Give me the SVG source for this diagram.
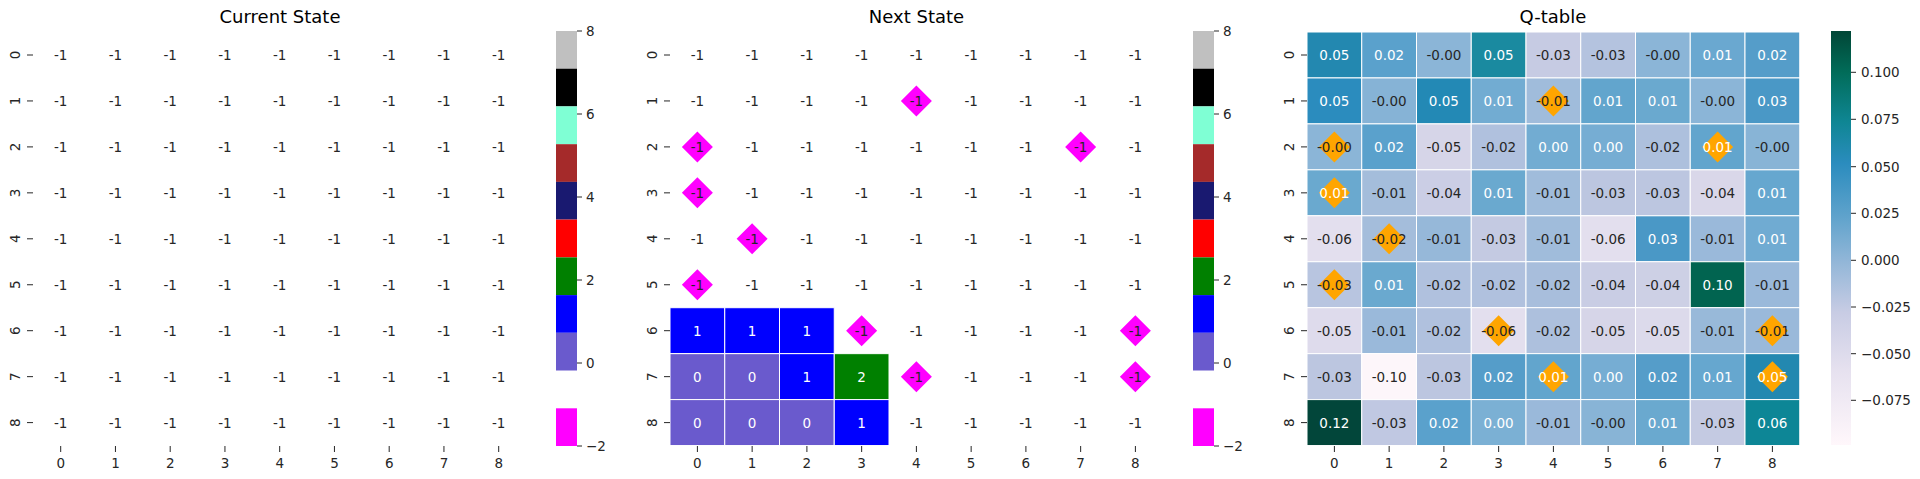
<svg xmlns="http://www.w3.org/2000/svg" xmlns:xlink="http://www.w3.org/1999/xlink" width="1920" height="479" viewBox="0 0 1920 479">
<style>
text{font-family:"DejaVu Sans",sans-serif;}
.t{font-size:18px;fill:#000;text-anchor:middle}
.a{font-size:13.5px;fill:#262626;text-anchor:middle;dominant-baseline:central}
.w{font-size:13.5px;fill:#fff;text-anchor:middle;dominant-baseline:central}
.k{font-size:13.5px;fill:#262626;text-anchor:middle;dominant-baseline:central}
.c{font-size:13.5px;fill:#262626;dominant-baseline:central}
.tk{stroke:#262626;stroke-width:1}
.cell rect{stroke:#fff;stroke-width:1}
</style>
<defs>
<g id="row">
<text class="a" x="0">-1</text><text class="a" x="54.75">-1</text><text class="a" x="109.5">-1</text><text class="a" x="164.25">-1</text><text class="a" x="219">-1</text><text class="a" x="273.75">-1</text><text class="a" x="328.5">-1</text><text class="a" x="383.25">-1</text><text class="a" x="438">-1</text>
</g>
<g id="xt">
<path class="tk" d="M0,446v6M54.75,446v6M109.5,446v6M164.25,446v6M219,446v6M273.75,446v6M328.5,446v6M383.25,446v6M438,446v6"/>
<text class="k" x="0" y="463">0</text><text class="k" x="54.75" y="463">1</text><text class="k" x="109.5" y="463">2</text><text class="k" x="164.25" y="463">3</text><text class="k" x="219" y="463">4</text><text class="k" x="273.75" y="463">5</text><text class="k" x="328.5" y="463">6</text><text class="k" x="383.25" y="463">7</text><text class="k" x="438" y="463">8</text>
</g>
<g id="yt">
<path class="tk" d="M-6,55h6M-6,100.95h6M-6,146.9h6M-6,192.85h6M-6,238.8h6M-6,284.75h6M-6,330.7h6M-6,376.65h6M-6,422.6h6"/>
<text class="k" transform="translate(-18,55) rotate(-90)">0</text><text class="k" transform="translate(-18,100.95) rotate(-90)">1</text><text class="k" transform="translate(-18,146.9) rotate(-90)">2</text><text class="k" transform="translate(-18,192.85) rotate(-90)">3</text><text class="k" transform="translate(-18,238.8) rotate(-90)">4</text><text class="k" transform="translate(-18,284.75) rotate(-90)">5</text><text class="k" transform="translate(-18,330.7) rotate(-90)">6</text><text class="k" transform="translate(-18,376.65) rotate(-90)">7</text><text class="k" transform="translate(-18,422.6) rotate(-90)">8</text>
</g>
<g id="cbar">
<rect x="0" y="31" width="21" height="37.7" fill="#c0c0c0"/>
<rect x="0" y="68.7" width="21" height="37.7" fill="#000"/>
<rect x="0" y="106.4" width="21" height="37.8" fill="#7fffd4"/>
<rect x="0" y="144.2" width="21" height="37.7" fill="#a52a2a"/>
<rect x="0" y="181.9" width="21" height="37.7" fill="#191970"/>
<rect x="0" y="219.6" width="21" height="37.8" fill="#ff0000"/>
<rect x="0" y="257.4" width="21" height="37.7" fill="#008000"/>
<rect x="0" y="295.1" width="21" height="37.7" fill="#0000ff"/>
<rect x="0" y="332.8" width="21" height="37.7" fill="#6a5acd"/>
<rect x="0" y="408.3" width="21" height="37.7" fill="#ff00ff"/>
<path class="tk" d="M21,31h5M21,114h5M21,197h5M21,280h5M21,363h5M21,446h5"/>
<text class="c" x="30" y="31">8</text><text class="c" x="30" y="114">6</text><text class="c" x="30" y="197">4</text><text class="c" x="30" y="280">2</text><text class="c" x="30" y="363">0</text><text class="c" x="30" y="446">−2</text>
</g>
<path id="dia" d="M0,-15.5L15.5,0L0,15.5L-15.5,0Z"/>
<linearGradient id="qg" x1="0" y1="1" x2="0" y2="0">
<stop offset="0" stop-color="#fff7fb"/>
<stop offset="0.18" stop-color="#e6e1ef"/>
<stop offset="0.32" stop-color="#c8cce4"/>
<stop offset="0.45" stop-color="#8fb5d7"/>
<stop offset="0.55" stop-color="#60a3cc"/>
<stop offset="0.68" stop-color="#2b8cbe"/>
<stop offset="0.78" stop-color="#0f8694"/>
<stop offset="0.9" stop-color="#016c59"/>
<stop offset="1" stop-color="#014636"/>
</linearGradient>
</defs>

<!-- Current State -->
<g id="current">
<text class="t" x="280" y="23">Current State</text>
<use href="#row" x="60.7" y="55"/><use href="#row" x="60.7" y="100.95"/><use href="#row" x="60.7" y="146.9"/><use href="#row" x="60.7" y="192.85"/><use href="#row" x="60.7" y="238.8"/><use href="#row" x="60.7" y="284.75"/><use href="#row" x="60.7" y="330.7"/><use href="#row" x="60.7" y="376.65"/><use href="#row" x="60.7" y="422.6"/>
<use href="#xt" x="60.7"/><use href="#yt" x="33"/>
<use href="#cbar" x="556"/>
</g>

<!-- Next State -->
<g id="next">
<text class="t" x="916.5" y="23">Next State</text>
<g class="cell">
<rect x="670" y="307.7" width="54.75" height="45.95" fill="#0000ff"/>
<rect x="724.75" y="307.7" width="54.75" height="45.95" fill="#0000ff"/>
<rect x="779.5" y="307.7" width="54.75" height="45.95" fill="#0000ff"/>
<rect x="670" y="353.65" width="54.75" height="45.95" fill="#6a5acd"/>
<rect x="724.75" y="353.65" width="54.75" height="45.95" fill="#6a5acd"/>
<rect x="779.5" y="353.65" width="54.75" height="45.95" fill="#0000ff"/>
<rect x="834.25" y="353.65" width="54.75" height="45.95" fill="#008000"/>
<rect x="670" y="399.6" width="54.75" height="45.95" fill="#6a5acd"/>
<rect x="724.75" y="399.6" width="54.75" height="45.95" fill="#6a5acd"/>
<rect x="779.5" y="399.6" width="54.75" height="45.95" fill="#6a5acd"/>
<rect x="834.25" y="399.6" width="54.75" height="45.95" fill="#0000ff"/>
</g>
<g fill="#ff00ff">
<use href="#dia" x="916.4" y="100.95"/><use href="#dia" x="697.4" y="146.9"/><use href="#dia" x="1080.6" y="146.9"/><use href="#dia" x="697.4" y="192.85"/><use href="#dia" x="752.1" y="238.8"/><use href="#dia" x="697.4" y="284.75"/><use href="#dia" x="861.6" y="330.7"/><use href="#dia" x="1135.4" y="330.7"/><use href="#dia" x="916.4" y="376.65"/><use href="#dia" x="1135.4" y="376.65"/>
</g>
<use href="#row" x="697.4" y="55"/><use href="#row" x="697.4" y="100.95"/><use href="#row" x="697.4" y="146.9"/><use href="#row" x="697.4" y="192.85"/><use href="#row" x="697.4" y="238.8"/><use href="#row" x="697.4" y="284.75"/>
<text class="w" x="697.4" y="330.7">1</text><text class="w" x="752.1" y="330.7">1</text><text class="w" x="806.9" y="330.7">1</text><text class="a" x="861.6" y="330.7">-1</text><text class="a" x="916.4" y="330.7">-1</text><text class="a" x="971.1" y="330.7">-1</text><text class="a" x="1025.9" y="330.7">-1</text><text class="a" x="1080.6" y="330.7">-1</text><text class="a" x="1135.4" y="330.7">-1</text>
<text class="w" x="697.4" y="376.65">0</text><text class="w" x="752.1" y="376.65">0</text><text class="w" x="806.9" y="376.65">1</text><text class="w" x="861.6" y="376.65">2</text><text class="a" x="916.4" y="376.65">-1</text><text class="a" x="971.1" y="376.65">-1</text><text class="a" x="1025.9" y="376.65">-1</text><text class="a" x="1080.6" y="376.65">-1</text><text class="a" x="1135.4" y="376.65">-1</text>
<text class="w" x="697.4" y="422.6">0</text><text class="w" x="752.1" y="422.6">0</text><text class="w" x="806.9" y="422.6">0</text><text class="w" x="861.6" y="422.6">1</text><text class="a" x="916.4" y="422.6">-1</text><text class="a" x="971.1" y="422.6">-1</text><text class="a" x="1025.9" y="422.6">-1</text><text class="a" x="1080.6" y="422.6">-1</text><text class="a" x="1135.4" y="422.6">-1</text>
<use href="#xt" x="697.4"/><use href="#yt" x="670"/>
<use href="#cbar" x="1193"/>
</g>

<!-- Q-table -->
<g id="qtable">
<text class="t" x="1553" y="23">Q-table</text>
<g class="cell">
<rect x="1307" y="32" width="54.75" height="45.95" fill="#2388b0"/><rect x="1361.75" y="32" width="54.75" height="45.95" fill="#5aa1cc"/><rect x="1416.5" y="32" width="54.75" height="45.95" fill="#8bb5d7"/><rect x="1471.25" y="32" width="54.75" height="45.95" fill="#1a8aa0"/><rect x="1526" y="32" width="54.75" height="45.95" fill="#c6cbe3"/><rect x="1580.75" y="32" width="54.75" height="45.95" fill="#b4c3df"/><rect x="1635.5" y="32" width="54.75" height="45.95" fill="#8bb5d7"/><rect x="1690.25" y="32" width="54.75" height="45.95" fill="#6aa8d0"/><rect x="1745" y="32" width="54.75" height="45.95" fill="#559dc9"/>
<rect x="1307" y="77.95" width="54.75" height="45.95" fill="#2b8cbe"/><rect x="1361.75" y="77.95" width="54.75" height="45.95" fill="#86b3d6"/><rect x="1416.5" y="77.95" width="54.75" height="45.95" fill="#2389b5"/><rect x="1471.25" y="77.95" width="54.75" height="45.95" fill="#72acd2"/><rect x="1526" y="77.95" width="54.75" height="45.95" fill="#a0bcdb"/><rect x="1580.75" y="77.95" width="54.75" height="45.95" fill="#62a5cd"/><rect x="1635.5" y="77.95" width="54.75" height="45.95" fill="#6aa9cf"/><rect x="1690.25" y="77.95" width="54.75" height="45.95" fill="#8bb5d7"/><rect x="1745" y="77.95" width="54.75" height="45.95" fill="#4a98c6"/>
<rect x="1307" y="123.9" width="54.75" height="45.95" fill="#8bb5d7"/><rect x="1361.75" y="123.9" width="54.75" height="45.95" fill="#5aa1cc"/><rect x="1416.5" y="123.9" width="54.75" height="45.95" fill="#d6d5e8"/><rect x="1471.25" y="123.9" width="54.75" height="45.95" fill="#b0c1de"/><rect x="1526" y="123.9" width="54.75" height="45.95" fill="#72acd2"/><rect x="1580.75" y="123.9" width="54.75" height="45.95" fill="#76add3"/><rect x="1635.5" y="123.9" width="54.75" height="45.95" fill="#adc0dd"/><rect x="1690.25" y="123.9" width="54.75" height="45.95" fill="#62a5cd"/><rect x="1745" y="123.9" width="54.75" height="45.95" fill="#88b4d6"/>
<rect x="1307" y="169.85" width="54.75" height="45.95" fill="#6aa9cf"/><rect x="1361.75" y="169.85" width="54.75" height="45.95" fill="#a4bddb"/><rect x="1416.5" y="169.85" width="54.75" height="45.95" fill="#cbcee5"/><rect x="1471.25" y="169.85" width="54.75" height="45.95" fill="#6aa9cf"/><rect x="1526" y="169.85" width="54.75" height="45.95" fill="#a0bcdb"/><rect x="1580.75" y="169.85" width="54.75" height="45.95" fill="#bcc6e0"/><rect x="1635.5" y="169.85" width="54.75" height="45.95" fill="#bcc6e0"/><rect x="1690.25" y="169.85" width="54.75" height="45.95" fill="#d9d7e9"/><rect x="1745" y="169.85" width="54.75" height="45.95" fill="#66a7cf"/>
<rect x="1307" y="215.8" width="54.75" height="45.95" fill="#e3dfee"/><rect x="1361.75" y="215.8" width="54.75" height="45.95" fill="#a4bddb"/><rect x="1416.5" y="215.8" width="54.75" height="45.95" fill="#96b8d9"/><rect x="1471.25" y="215.8" width="54.75" height="45.95" fill="#c4cae2"/><rect x="1526" y="215.8" width="54.75" height="45.95" fill="#a0bcdb"/><rect x="1580.75" y="215.8" width="54.75" height="45.95" fill="#e3dfee"/><rect x="1635.5" y="215.8" width="54.75" height="45.95" fill="#4a98c6"/><rect x="1690.25" y="215.8" width="54.75" height="45.95" fill="#9ab9da"/><rect x="1745" y="215.8" width="54.75" height="45.95" fill="#70abd2"/>
<rect x="1307" y="261.75" width="54.75" height="45.95" fill="#b8c5e0"/><rect x="1361.75" y="261.75" width="54.75" height="45.95" fill="#6aa9cf"/><rect x="1416.5" y="261.75" width="54.75" height="45.95" fill="#b0c1de"/><rect x="1471.25" y="261.75" width="54.75" height="45.95" fill="#b0c1de"/><rect x="1526" y="261.75" width="54.75" height="45.95" fill="#a8bedc"/><rect x="1580.75" y="261.75" width="54.75" height="45.95" fill="#c9cde4"/><rect x="1635.5" y="261.75" width="54.75" height="45.95" fill="#cdd0e5"/><rect x="1690.25" y="261.75" width="54.75" height="45.95" fill="#016450"/><rect x="1745" y="261.75" width="54.75" height="45.95" fill="#9ab9da"/>
<rect x="1307" y="307.7" width="54.75" height="45.95" fill="#dedbec"/><rect x="1361.75" y="307.7" width="54.75" height="45.95" fill="#9ab9da"/><rect x="1416.5" y="307.7" width="54.75" height="45.95" fill="#b0c1de"/><rect x="1471.25" y="307.7" width="54.75" height="45.95" fill="#e3dfee"/><rect x="1526" y="307.7" width="54.75" height="45.95" fill="#adc0dd"/><rect x="1580.75" y="307.7" width="54.75" height="45.95" fill="#d6d5e8"/><rect x="1635.5" y="307.7" width="54.75" height="45.95" fill="#dcdaeb"/><rect x="1690.25" y="307.7" width="54.75" height="45.95" fill="#98b9d9"/><rect x="1745" y="307.7" width="54.75" height="45.95" fill="#9ab9da"/>
<rect x="1307" y="353.65" width="54.75" height="45.95" fill="#bcc6e0"/><rect x="1361.75" y="353.65" width="54.75" height="45.95" fill="#fdf6fa"/><rect x="1416.5" y="353.65" width="54.75" height="45.95" fill="#bcc6e0"/><rect x="1471.25" y="353.65" width="54.75" height="45.95" fill="#559dc9"/><rect x="1526" y="353.65" width="54.75" height="45.95" fill="#62a5cd"/><rect x="1580.75" y="353.65" width="54.75" height="45.95" fill="#76add3"/><rect x="1635.5" y="353.65" width="54.75" height="45.95" fill="#559dc9"/><rect x="1690.25" y="353.65" width="54.75" height="45.95" fill="#66a7cf"/><rect x="1745" y="353.65" width="54.75" height="45.95" fill="#2388b0"/>
<rect x="1307" y="399.6" width="54.75" height="45.95" fill="#02463a"/><rect x="1361.75" y="399.6" width="54.75" height="45.95" fill="#c0c8e2"/><rect x="1416.5" y="399.6" width="54.75" height="45.95" fill="#5aa1cc"/><rect x="1471.25" y="399.6" width="54.75" height="45.95" fill="#7bb0d4"/><rect x="1526" y="399.6" width="54.75" height="45.95" fill="#9ab9da"/><rect x="1580.75" y="399.6" width="54.75" height="45.95" fill="#88b4d6"/><rect x="1635.5" y="399.6" width="54.75" height="45.95" fill="#6aa9cf"/><rect x="1690.25" y="399.6" width="54.75" height="45.95" fill="#c4cae2"/><rect x="1745" y="399.6" width="54.75" height="45.95" fill="#0d8696"/>
</g>
<g fill="#ffa500">
<use href="#dia" x="1334.4" y="146.9"/><use href="#dia" x="1334.4" y="192.85"/><use href="#dia" x="1389.1" y="238.8"/><use href="#dia" x="1334.4" y="284.75"/><use href="#dia" x="1498.6" y="330.7"/><use href="#dia" x="1553.4" y="100.95"/><use href="#dia" x="1717.6" y="146.9"/><use href="#dia" x="1553.4" y="376.65"/><use href="#dia" x="1772.4" y="330.7"/><use href="#dia" x="1772.4" y="376.65"/>
</g>
<g>
<text class="w" x="1334.4" y="55">0.05</text><text class="w" x="1389.1" y="55">0.02</text><text class="a" x="1443.9" y="55">-0.00</text><text class="w" x="1498.6" y="55">0.05</text><text class="a" x="1553.4" y="55">-0.03</text><text class="a" x="1608.1" y="55">-0.03</text><text class="a" x="1662.9" y="55">-0.00</text><text class="w" x="1717.6" y="55">0.01</text><text class="w" x="1772.4" y="55">0.02</text>
<text class="w" x="1334.4" y="100.95">0.05</text><text class="a" x="1389.1" y="100.95">-0.00</text><text class="w" x="1443.9" y="100.95">0.05</text><text class="w" x="1498.6" y="100.95">0.01</text><text class="a" x="1553.4" y="100.95">-0.01</text><text class="w" x="1608.1" y="100.95">0.01</text><text class="w" x="1662.9" y="100.95">0.01</text><text class="a" x="1717.6" y="100.95">-0.00</text><text class="w" x="1772.4" y="100.95">0.03</text>
<text class="a" x="1334.4" y="146.9">-0.00</text><text class="w" x="1389.1" y="146.9">0.02</text><text class="a" x="1443.9" y="146.9">-0.05</text><text class="a" x="1498.6" y="146.9">-0.02</text><text class="w" x="1553.4" y="146.9">0.00</text><text class="w" x="1608.1" y="146.9">0.00</text><text class="a" x="1662.9" y="146.9">-0.02</text><text class="w" x="1717.6" y="146.9">0.01</text><text class="a" x="1772.4" y="146.9">-0.00</text>
<text class="w" x="1334.4" y="192.85">0.01</text><text class="a" x="1389.1" y="192.85">-0.01</text><text class="a" x="1443.9" y="192.85">-0.04</text><text class="w" x="1498.6" y="192.85">0.01</text><text class="a" x="1553.4" y="192.85">-0.01</text><text class="a" x="1608.1" y="192.85">-0.03</text><text class="a" x="1662.9" y="192.85">-0.03</text><text class="a" x="1717.6" y="192.85">-0.04</text><text class="w" x="1772.4" y="192.85">0.01</text>
<text class="a" x="1334.4" y="238.8">-0.06</text><text class="a" x="1389.1" y="238.8">-0.02</text><text class="a" x="1443.9" y="238.8">-0.01</text><text class="a" x="1498.6" y="238.8">-0.03</text><text class="a" x="1553.4" y="238.8">-0.01</text><text class="a" x="1608.1" y="238.8">-0.06</text><text class="w" x="1662.9" y="238.8">0.03</text><text class="a" x="1717.6" y="238.8">-0.01</text><text class="w" x="1772.4" y="238.8">0.01</text>
<text class="a" x="1334.4" y="284.75">-0.03</text><text class="w" x="1389.1" y="284.75">0.01</text><text class="a" x="1443.9" y="284.75">-0.02</text><text class="a" x="1498.6" y="284.75">-0.02</text><text class="a" x="1553.4" y="284.75">-0.02</text><text class="a" x="1608.1" y="284.75">-0.04</text><text class="a" x="1662.9" y="284.75">-0.04</text><text class="w" x="1717.6" y="284.75">0.10</text><text class="a" x="1772.4" y="284.75">-0.01</text>
<text class="a" x="1334.4" y="330.7">-0.05</text><text class="a" x="1389.1" y="330.7">-0.01</text><text class="a" x="1443.9" y="330.7">-0.02</text><text class="a" x="1498.6" y="330.7">-0.06</text><text class="a" x="1553.4" y="330.7">-0.02</text><text class="a" x="1608.1" y="330.7">-0.05</text><text class="a" x="1662.9" y="330.7">-0.05</text><text class="a" x="1717.6" y="330.7">-0.01</text><text class="a" x="1772.4" y="330.7">-0.01</text>
<text class="a" x="1334.4" y="376.65">-0.03</text><text class="a" x="1389.1" y="376.65">-0.10</text><text class="a" x="1443.9" y="376.65">-0.03</text><text class="w" x="1498.6" y="376.65">0.02</text><text class="w" x="1553.4" y="376.65">0.01</text><text class="w" x="1608.1" y="376.65">0.00</text><text class="w" x="1662.9" y="376.65">0.02</text><text class="w" x="1717.6" y="376.65">0.01</text><text class="w" x="1772.4" y="376.65">0.05</text>
<text class="w" x="1334.4" y="422.6">0.12</text><text class="a" x="1389.1" y="422.6">-0.03</text><text class="w" x="1443.9" y="422.6">0.02</text><text class="w" x="1498.6" y="422.6">0.00</text><text class="a" x="1553.4" y="422.6">-0.01</text><text class="a" x="1608.1" y="422.6">-0.00</text><text class="w" x="1662.9" y="422.6">0.01</text><text class="a" x="1717.6" y="422.6">-0.03</text><text class="w" x="1772.4" y="422.6">0.06</text>
</g>
<use href="#xt" x="1334.4"/><use href="#yt" x="1307"/>
<g id="qbar">
<rect x="1831" y="31" width="20" height="414" fill="url(#qg)"/>
<path class="tk" d="M1851,72.3h5M1851,119.3h5M1851,166.7h5M1851,213.3h5M1851,260.3h5M1851,307h5M1851,353.7h5M1851,400.3h5"/>
<text class="c" x="1861" y="72.3">0.100</text><text class="c" x="1861" y="119.3">0.075</text><text class="c" x="1861" y="166.7">0.050</text><text class="c" x="1861" y="213.3">0.025</text><text class="c" x="1861" y="260.3">0.000</text><text class="c" x="1861" y="307">−0.025</text><text class="c" x="1861" y="353.7">−0.050</text><text class="c" x="1861" y="400.3">−0.075</text>
</g>
</g>
</svg>
